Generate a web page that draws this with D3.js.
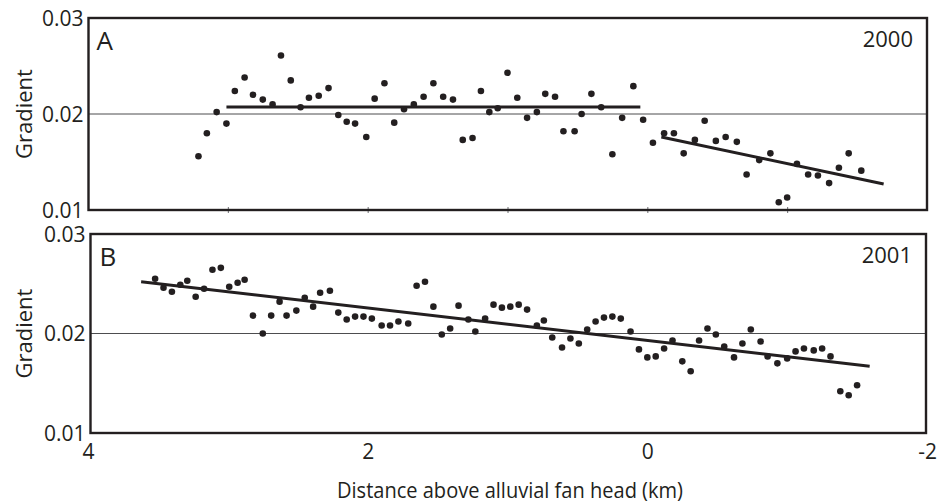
<!DOCTYPE html>
<html>
<head>
<meta charset="utf-8">
<script src="https://d3js.org/d3.v7.min.js"></script>
<style>
  body { margin: 0; background: #fff; }
  text { font-family: "Open Sans", sans-serif; fill: #231f20; }
</style>
</head>
<body>
<div id="chart"></div>
<script>
// panel A (2000): distance above fan head (km) and channel gradient
const aDist = [3.21, 3.15, 3.08, 3.01, 2.95, 2.88, 2.82, 2.75, 2.68, 2.62, 2.55, 2.48, 2.42, 2.35, 2.28, 2.21,
    2.15, 2.09, 2.01, 1.95, 1.88, 1.81, 1.74, 1.67, 1.60, 1.53, 1.46, 1.39, 1.32, 1.25, 1.19, 1.13, 1.07, 1.00,
    0.93, 0.86, 0.79, 0.73, 0.66, 0.60, 0.52, 0.47, 0.40, 0.33, 0.25, 0.18, 0.10, 0.03, -0.04, -0.12, -0.19,
    -0.26, -0.34, -0.41, -0.49, -0.56, -0.64, -0.71, -0.80, -0.88, -0.94, -1.00, -1.07, -1.15, -1.22, -1.30,
    -1.37, -1.44, -1.53];
const aGrad = [0.0156, 0.0180, 0.0202, 0.0190, 0.0224, 0.0238, 0.0220, 0.0215, 0.0210, 0.0261, 0.0235, 0.0207,
    0.0217, 0.0219, 0.0227, 0.0199, 0.0192, 0.0190, 0.0176, 0.0216, 0.0232, 0.0191, 0.0205, 0.0210, 0.0218,
    0.0232, 0.0218, 0.0215, 0.0173, 0.0175, 0.0224, 0.0202, 0.0206, 0.0243, 0.0217, 0.0196, 0.0202, 0.0221,
    0.0218, 0.0182, 0.0182, 0.0200, 0.0221, 0.0207, 0.0158, 0.0196, 0.0229, 0.0194, 0.0170, 0.0180, 0.0180,
    0.0159, 0.0173, 0.0193, 0.0172, 0.0176, 0.0171, 0.0137, 0.0152, 0.0159, 0.0108, 0.0113, 0.0148, 0.0137,
    0.0136, 0.0128, 0.0144, 0.0159, 0.0141];
// fitted segments for 2000: [x, y] end points
const aFits = [
    [[3.01, 0.02073], [0.05, 0.02073]],
    [[-0.10, 0.0176], [-1.69, 0.0127]]
];

// panel B (2001)
const bDist = [3.52, 3.46, 3.40, 3.34, 3.29, 3.23, 3.17, 3.11, 3.05, 2.99, 2.93, 2.88, 2.82, 2.75, 2.69, 2.63,
    2.58, 2.51, 2.45, 2.39, 2.34, 2.27, 2.21, 2.15, 2.09, 2.03, 1.97, 1.90, 1.84, 1.78, 1.71, 1.65, 1.59, 1.53,
    1.47, 1.41, 1.35, 1.28, 1.23, 1.16, 1.10, 1.04, 0.98, 0.92, 0.86, 0.79, 0.74, 0.68, 0.61, 0.55, 0.49, 0.43,
    0.37, 0.31, 0.25, 0.19, 0.12, 0.06, 0.00, -0.06, -0.12, -0.18, -0.25, -0.31, -0.37, -0.43, -0.49, -0.55,
    -0.62, -0.68, -0.74, -0.81, -0.86, -0.93, -1.00, -1.06, -1.12, -1.19, -1.25, -1.31, -1.38, -1.44, -1.50];
const bGrad = [0.0255, 0.0246, 0.0242, 0.0249, 0.0253, 0.0237, 0.0245, 0.0264, 0.0266, 0.0247, 0.0251, 0.0254,
    0.0218, 0.0200, 0.0218, 0.0232, 0.0218, 0.0223, 0.0236, 0.0227, 0.0241, 0.0243, 0.0221, 0.0214, 0.0217,
    0.0217, 0.0215, 0.0208, 0.0208, 0.0212, 0.0210, 0.0248, 0.0252, 0.0227, 0.0199, 0.0205, 0.0228, 0.0214,
    0.0202, 0.0215, 0.0229, 0.0226, 0.0227, 0.0229, 0.0224, 0.0208, 0.0213, 0.0196, 0.0186, 0.0195, 0.0190,
    0.0204, 0.0212, 0.0216, 0.0217, 0.0215, 0.0202, 0.0184, 0.0176, 0.0177, 0.0185, 0.0193, 0.0172, 0.0162,
    0.0193, 0.0205, 0.0199, 0.0187, 0.0176, 0.0190, 0.0204, 0.0192, 0.0177, 0.0170, 0.0175, 0.0182, 0.0185,
    0.0183, 0.0185, 0.0177, 0.0142, 0.0138, 0.0148];
const bFits = [
    [[3.62, 0.0252], [-1.59, 0.0167]]
];

const yTicks = [0.01, 0.02, 0.03];
const xLabelTicks = [4, 2, 0, -2];
const xMinorTicks = [3, 2, 1, 0, -1];

const ink = "#231f20";
const width = 948, height = 504;

const svg = d3.select("#chart").append("svg")
    .attr("width", width)
    .attr("height", height);

const x = d3.scaleLinear().domain([4, -2]).range([88, 927]);

function panel(opts) {
    const y = d3.scaleLinear().domain([0.01, 0.03]).range([opts.bottom, opts.top]);
    const g = svg.append("g");

    // reference line at 0.02
    g.append("line")
        .attr("x1", opts.left).attr("x2", opts.right)
        .attr("y1", y(0.02)).attr("y2", y(0.02))
        .attr("stroke", "#4d4d4f")
        .attr("stroke-width", 1);

    // y labels
    const yAxis = g.append("g")
        .attr("transform", "translate(" + (opts.left - 5) + ",0)")
        .call(d3.axisLeft(y).tickValues(yTicks).tickSize(0).tickPadding(0).tickFormat(d3.format(".2f")));
    yAxis.select(".domain").remove();
    yAxis.selectAll("text")
        .style("font-size", "21px")
        .attr("dy", "0.34em")
        .attr("fill", ink);

    if (opts.minorTicks) {
        const tk = g.append("g")
            .attr("transform", "translate(0," + opts.bottom + ")")
            .call(d3.axisBottom(x).tickValues(xMinorTicks).tickFormat(""));
        tk.select(".domain").remove();
        tk.selectAll("line").attr("y1", -3).attr("y2", 3).attr("stroke", "#6d6e71").attr("stroke-width", 1);
    }

    // fitted lines
    const line = d3.line().x(d => x(d[0])).y(d => y(d[1]));
    g.selectAll(".fit")
        .data(opts.fits)
        .join("path")
        .attr("class", "fit")
        .attr("d", d => line(d))
        .attr("fill", "none")
        .attr("stroke", ink)
        .attr("stroke-width", 3);

    // points
    g.selectAll(".pt")
        .data(opts.dist.map((d, i) => [d, opts.grad[i]]))
        .join("circle")
        .attr("class", "pt")
        .attr("cx", d => x(d[0]))
        .attr("cy", d => y(d[1]))
        .attr("r", 3.3)
        .attr("fill", ink);

    // frame
    g.append("rect")
        .attr("x", opts.left).attr("y", opts.top)
        .attr("width", opts.right - opts.left)
        .attr("height", opts.bottom - opts.top)
        .attr("fill", "none")
        .attr("stroke", ink)
        .attr("stroke-width", 2.4);

    g.append("text")
        .attr("x", opts.left + opts.letterDx).attr("y", opts.top + 32)
        .style("font-size", "26px")
        .text(opts.letter);

    g.append("text")
        .attr("x", opts.right - 14).attr("y", opts.top + 29)
        .attr("text-anchor", "end")
        .style("font-size", "22px")
        .text(opts.year);

    g.append("text")
        .attr("transform", "translate(32," + y(0.02) + ") rotate(-90)")
        .attr("text-anchor", "middle")
        .style("font-size", "22px")
        .text("Gradient");

    return y;
}

panel({top: 18, bottom: 210, left: 88.5, right: 927, dist: aDist, grad: aGrad, fits: aFits,
    letter: "A", letterDx: 8, year: "2000", minorTicks: true});
panel({top: 234, bottom: 433, left: 90.5, right: 926, dist: bDist, grad: bGrad, fits: bFits,
    letter: "B", letterDx: 9, year: "2001", minorTicks: false});

const xAxis = svg.append("g")
    .attr("transform", "translate(0,433)")
    .call(d3.axisBottom(x).tickValues(xLabelTicks).tickSize(0).tickPadding(11).tickFormat(d => String(d)));
xAxis.select(".domain").remove();
xAxis.selectAll("text")
    .style("font-size", "21px")
    .attr("fill", ink);

svg.append("text")
    .attr("x", 510).attr("y", 498)
    .attr("text-anchor", "middle")
    .attr("textLength", 346)
    .attr("lengthAdjust", "spacingAndGlyphs")
    .style("font-size", "21px")
    .text("Distance above alluvial fan head (km)");
</script>
</body>
</html>
